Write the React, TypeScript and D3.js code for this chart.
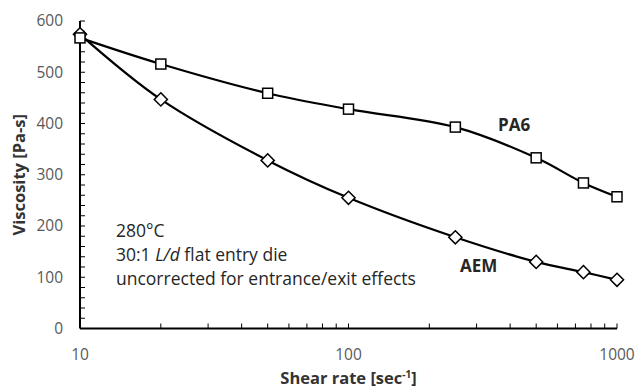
import React, { useEffect, useRef } from 'react'
import * as d3 from 'd3'

const shearRates = [10, 20, 50, 100, 250, 500, 750, 1000]
const pa6Viscosity = [567, 516, 459, 428, 393, 333, 284, 257]
const aemViscosity = [574, 447, 328, 255, 178, 130, 110, 95]
const yTicks = [0, 100, 200, 300, 400, 500, 600]
const xTicks = [10, 100, 1000]
const noteLines = ['280°C', '30:1 L/d flat entry die', 'uncorrected for entrance/exit effects']

const FONT = "'Open Sans', 'Noto Sans', sans-serif"

export default function App() {
  const ref = useRef<SVGSVGElement>(null)

  useEffect(() => {
    const svg = d3.select(ref.current)
    svg.selectAll('*').remove()

    const x = d3.scaleLog().domain([10, 1000]).range([80, 617])
    const y = d3.scaleLinear().domain([0, 600]).range([328.5, 21])

    const g = svg.append('g')

    // y axis minor ticks (inside)
    g.selectAll('line.ymin')
      .data(d3.range(0, 601, 20))
      .enter().append('line')
      .attr('x1', x(10)).attr('x2', x(10) + 5)
      .attr('y1', d => y(d)).attr('y2', d => y(d))
      .attr('stroke', '#000').attr('stroke-width', 1)

    // x axis minor ticks (inside)
    const minors: number[] = []
    ;[10, 100].forEach(dec => {
      for (let k = 2; k <= 10; k++) minors.push(dec * k)
    })
    g.selectAll('line.xmin')
      .data(minors)
      .enter().append('line')
      .attr('x1', d => x(d)).attr('x2', d => x(d))
      .attr('y1', y(0)).attr('y2', y(0) - 5)
      .attr('stroke', '#000').attr('stroke-width', 1)

    // axis lines
    g.append('line')
      .attr('x1', x(10)).attr('x2', x(10)).attr('y1', y(0)).attr('y2', y(600))
      .attr('stroke', '#000').attr('stroke-width', 2)
    g.append('line')
      .attr('x1', x(10)).attr('x2', x(1000)).attr('y1', y(0)).attr('y2', y(0))
      .attr('stroke', '#000').attr('stroke-width', 2)

    // tick labels
    g.selectAll('text.ylab')
      .data(yTicks)
      .enter().append('text')
      .attr('x', x(10) - 17).attr('y', d => y(d))
      .attr('dy', '0.35em')
      .attr('text-anchor', 'end')
      .style('font-family', FONT).style('font-size', '15.5px').style('fill', '#595959')
      .text(d => d)

    g.selectAll('text.xlab')
      .data(xTicks)
      .enter().append('text')
      .attr('x', d => x(d)).attr('y', y(0) + 31)
      .attr('text-anchor', 'middle')
      .style('font-family', FONT).style('font-size', '15.5px').style('fill', '#595959')
      .text(d => d)

    // axis titles
    g.append('text')
      .attr('transform', 'translate(25,' + y(300) + ') rotate(-90)')
      .attr('text-anchor', 'middle')
      .style('font-family', FONT).style('font-size', '16.5px').style('font-weight', 'bold').style('fill', '#333')
      .text('Viscosity [Pa-s]')

    const xt = g.append('text')
      .attr('x', x(100)).attr('y', 384)
      .attr('text-anchor', 'middle')
      .style('font-family', FONT).style('font-size', '16.5px').style('font-weight', 'bold').style('fill', '#333')
    xt.append('tspan').text('Shear rate [sec')
    xt.append('tspan').attr('dy', -6).style('font-size', '10px').text('-1')
    xt.append('tspan').attr('dy', 6).text(']')

    // lines
    const line = d3.line<number>()
      .x((d, i) => x(shearRates[i]))
      .y(d => y(d))
      .curve(d3.curveCatmullRom.alpha(0.5))

    g.append('path').attr('d', line(pa6Viscosity))
      .attr('fill', 'none').attr('stroke', '#000').attr('stroke-width', 2.2)
    g.append('path').attr('d', line(aemViscosity))
      .attr('fill', 'none').attr('stroke', '#000').attr('stroke-width', 2.2)

    // AEM diamonds
    g.selectAll('path.dia')
      .data(aemViscosity)
      .enter().append('path')
      .attr('d', d3.symbol().type(d3.symbolDiamond2).size(110)())
      .attr('transform', (d, i) => 'translate(' + x(shearRates[i]) + ',' + y(d) + ')')
      .attr('fill', '#fff').attr('stroke', '#000').attr('stroke-width', 1.5)

    // PA6 squares
    g.selectAll('rect.sq')
      .data(pa6Viscosity)
      .enter().append('rect')
      .attr('x', (d, i) => x(shearRates[i]) - 5)
      .attr('y', d => y(d) - 5)
      .attr('width', 10).attr('height', 10)
      .attr('fill', '#fff').attr('stroke', '#000').attr('stroke-width', 1.5)

    // series labels
    g.append('text')
      .attr('x', 498).attr('y', 131)
      .style('font-family', FONT).style('font-size', '17px').style('font-weight', 'bold').style('fill', '#262626')
      .text('PA6')
    g.append('text')
      .attr('x', 460).attr('y', 272)
      .style('font-family', FONT).style('font-size', '17px').style('font-weight', 'bold').style('fill', '#262626')
      .text('AEM')

    // notes
    const notes = g.append('text')
      .style('font-family', FONT).style('font-size', '17.5px').style('fill', '#262626')
    notes.append('tspan').attr('x', 116).attr('y', 237).text(noteLines[0])
    const l2 = notes.append('tspan').attr('x', 116).attr('y', 261)
    l2.append('tspan').text('30:1 ')
    l2.append('tspan').style('font-style', 'italic').text('L/d')
    l2.append('tspan').text(' flat entry die')
    notes.append('tspan').attr('x', 116).attr('y', 285).text(noteLines[2])
  }, [])

  return (
    <svg
      ref={ref}
      width={638}
      height={388}
      style={{ position: 'absolute', left: 0, top: 0, background: '#fff' }}
    />
  )
}
